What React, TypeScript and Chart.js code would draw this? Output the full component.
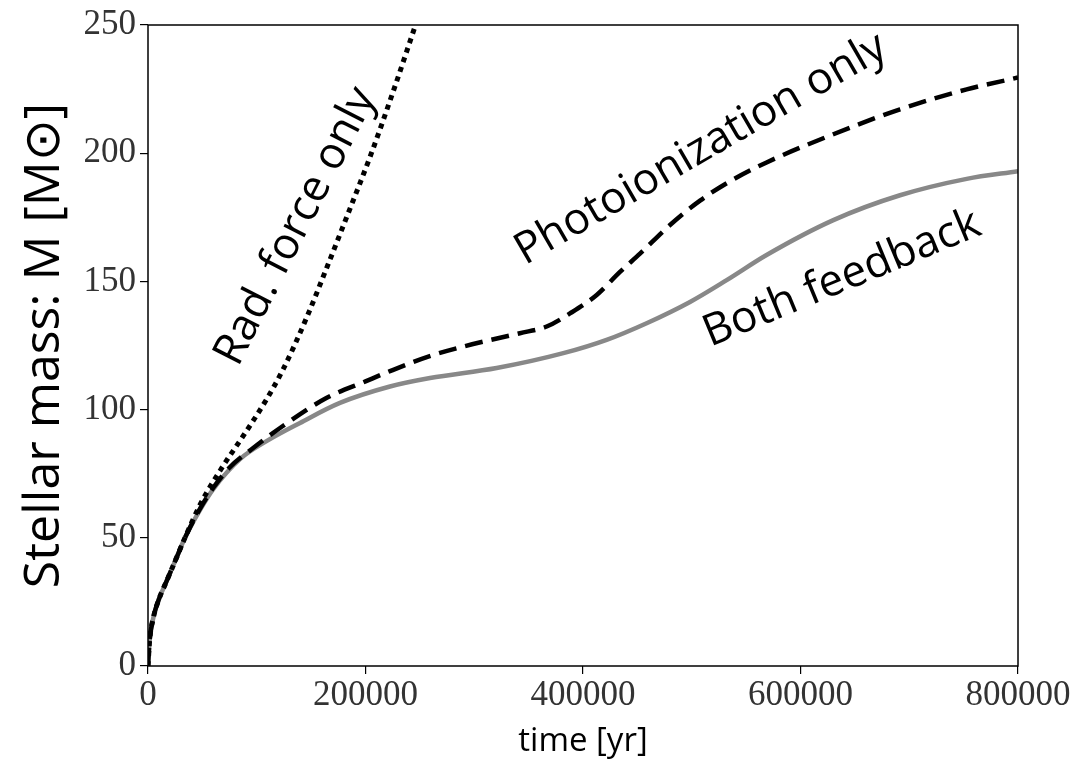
import React, { useEffect, useRef } from "react";
import { Chart, registerables } from "chart.js";

Chart.register(...registerables);

// Radiation force only (dotted)
const radTime = [0, 1500, 5000, 10000, 17000, 26000, 34000, 48000, 69000, 88000, 109000, 124000, 146000, 165000, 184000, 205000, 225000, 246000];
const radMass = [0, 10, 19, 26, 33, 42, 50, 63, 78, 90, 104, 115.5, 136, 156, 176.5, 199.5, 223.5, 250];

// Photoionization only (dashed)
const photoTime = [0, 1500, 5000, 10000, 17000, 26000, 34000, 48000, 60000, 75000, 97000, 124000, 164000, 200000, 222500, 260000, 290000, 342000, 366600, 388000, 412600, 434000, 452400, 480000, 507600, 535000, 568800, 630200, 691500, 752800, 800000];
const photoMass = [0, 10, 19, 26, 33, 42, 50, 61.5, 69.5, 77.4, 85.1, 93.6, 104.5, 111, 115, 121, 124.6, 129.8, 132.4, 137.5, 144.7, 153.7, 160.8, 172, 181.5, 189, 196.4, 207.4, 217.1, 224.9, 229.5];

// Both feedback (grey solid)
const bothTime = [0, 1500, 5000, 10000, 17000, 26000, 34000, 48000, 60000, 84600, 109000, 139800, 176500, 222500, 259300, 320600, 381900, 421700, 458500, 498400, 532100, 568800, 630200, 691500, 752800, 800000];
const bothMass = [0, 10, 19, 26, 33, 42, 50, 61, 69, 80.7, 87.7, 94.8, 102.6, 109, 112.3, 116.2, 122, 127.2, 133.7, 142, 150.5, 160.3, 173.9, 183.6, 190, 193];

const xTickValues = [0, 200000, 400000, 600000, 800000];
const yTickValues = [0, 50, 100, 150, 200, 250];

const labelTexts = ["Rad. force only", "Photoionization only", "Both feedback"];
const labelTimes = [136000, 508500, 638200];
const labelMasses = [171.5, 201.5, 151];
const labelAngles = [-63, -30, -22.5];

const toPoints = (xs: number[], ys: number[]) => xs.map((x, i) => ({ x, y: ys[i] }));

const framePlugin = {
  id: "frame",
  afterDraw(chart: any) {
    const { ctx, chartArea } = chart;
    ctx.save();
    ctx.strokeStyle = "#000";
    ctx.lineWidth = 1.5;
    ctx.strokeRect(chartArea.left, chartArea.top, chartArea.right - chartArea.left, chartArea.bottom - chartArea.top);
    ctx.restore();
  },
};

const annotationPlugin = {
  id: "curveLabels",
  afterDraw(chart: any) {
    const { ctx } = chart;
    const xs = chart.scales.x;
    const ys = chart.scales.y;
    ctx.save();
    ctx.fillStyle = "#000";
    ctx.font = "44px 'Open Sans'";
    ctx.textAlign = "center";
    ctx.textBaseline = "middle";
    labelTexts.forEach((t, i) => {
      const px = xs.getPixelForValue(labelTimes[i]);
      const py = ys.getPixelForValue(labelMasses[i]);
      ctx.save();
      ctx.translate(px, py);
      ctx.rotate((labelAngles[i] * Math.PI) / 180);
      ctx.fillText(t, 0, 0);
      ctx.restore();
    });
    ctx.restore();
  },
};

export default function App() {
  const ref = useRef<HTMLCanvasElement | null>(null);

  useEffect(() => {
    if (!ref.current) return;
    const chart = new Chart(ref.current, {
      type: "line",
      data: {
        datasets: [
          {
            label: "Rad. force only",
            data: toPoints(radTime, radMass),
            borderColor: "#000",
            borderWidth: 5,
            borderDash: [5, 5],
            borderCapStyle: "butt",
            pointRadius: 0,
            cubicInterpolationMode: "monotone",
            fill: false,
            order: 1,
          },
          {
            label: "Photoionization only",
            data: toPoints(photoTime, photoMass),
            borderColor: "#000",
            borderWidth: 4.5,
            borderDash: [18, 9],
            borderCapStyle: "butt",
            pointRadius: 0,
            cubicInterpolationMode: "monotone",
            fill: false,
            order: 2,
          },
          {
            label: "Both feedback",
            data: toPoints(bothTime, bothMass),
            borderColor: "#888888",
            borderWidth: 4.5,
            pointRadius: 0,
            cubicInterpolationMode: "monotone",
            fill: false,
            order: 3,
          },
        ],
      },
      options: {
        responsive: false,
        animation: false,
        devicePixelRatio: 1,
        layout: { padding: { left: 0, top: 22, right: 74, bottom: 0 } },
        plugins: {
          legend: { display: false },
          tooltip: { enabled: false },
        },
        scales: {
          x: {
            type: "linear",
            min: 0,
            max: 800000,
            afterFit: (s: any) => {
              s.height = 95;
            },
            afterBuildTicks: (s: any) => {
              s.ticks = xTickValues.map((v) => ({ value: v }));
            },
            ticks: {
              callback: (v: any) => String(v),
              font: { family: "Liberation Serif", size: 35 },
              color: "#333",
              padding: 1,
              maxRotation: 0,
            },
            grid: { drawOnChartArea: false, drawTicks: true, tickLength: 8, color: "#000", lineWidth: 1.2 },
            border: { display: false },
            title: {
              display: true,
              text: "time [yr]",
              font: { family: "Open Sans", size: 33 },
              color: "#000",
              padding: { top: 0, bottom: 0 },
            },
          },
          y: {
            type: "linear",
            min: 0,
            max: 250,
            afterFit: (s: any) => {
              s.width = 148;
            },
            afterBuildTicks: (s: any) => {
              s.ticks = yTickValues.map((v) => ({ value: v }));
            },
            ticks: {
              callback: (v: any) => String(v),
              font: { family: "Liberation Serif", size: 35 },
              color: "#333",
              padding: 4,
            },
            grid: { drawOnChartArea: false, drawTicks: true, tickLength: 8, color: "#000", lineWidth: 1.2 },
            border: { display: false },
            title: {
              display: true,
              text: "Stellar mass: M [M⊙]",
              font: { family: "Open Sans", size: 50 },
              color: "#000",
              padding: { top: 15, bottom: 0 },
            },
          },
        },
      },
      plugins: [framePlugin, annotationPlugin],
    } as any);
    return () => chart.destroy();
  }, []);

  return (
    <div style={{ position: "absolute", left: 0, top: 0, width: 1092, height: 761, background: "#fff" }}>
      <canvas ref={ref} width={1092} height={761} style={{ width: 1092, height: 761, display: "block" }} />
    </div>
  );
}
